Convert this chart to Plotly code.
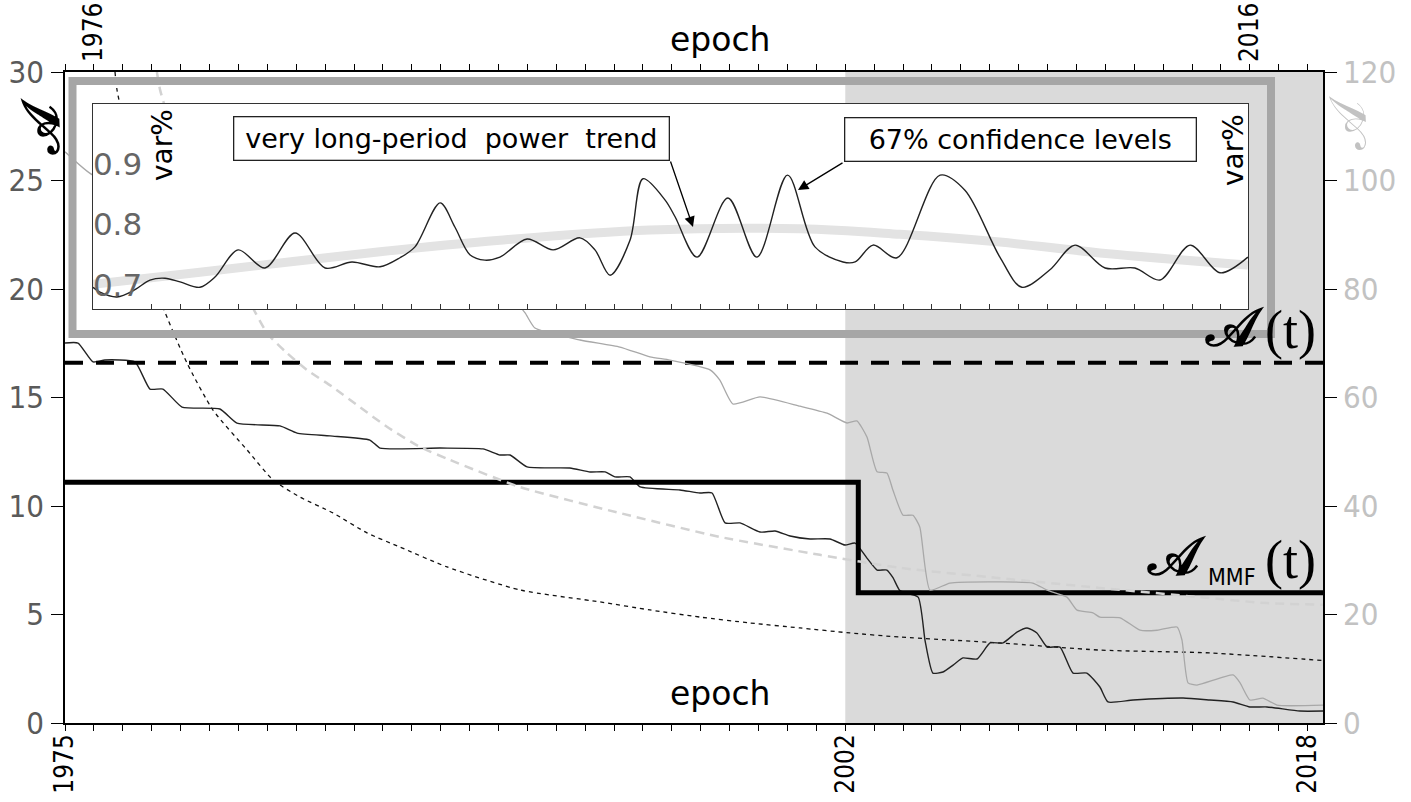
import plotly.graph_objects as go

# ---------------- data ----------------
# A(t) - black thin line, left axis
at_years = [1975.00, 1975.45, 1975.97, 1976.38, 1977.42, 1977.94, 1978.39, 1979.05, 1980.36, 1980.95,
            1982.44, 1983.03, 1984.17, 1985.55, 1985.90, 1987.98, 1989.46, 1990.05, 1990.40, 1990.99,
            1992.47, 1993.17, 1993.69, 1994.03, 1994.55, 1994.90, 1996.28, 1996.97, 1997.39, 1997.84,
            1998.36, 1999.05, 1999.57, 2000.09, 2000.78, 2001.47, 2001.99, 2002.34, 2002.75, 2003.10,
            2003.44, 2003.65, 2003.89, 2004.52, 2004.76, 2005.03, 2005.38, 2005.73, 2006.07, 2006.56,
            2007.01, 2007.46, 2007.94, 2008.29, 2008.63, 2008.98, 2009.43, 2009.88, 2010.36, 2010.81,
            2011.09, 2011.96, 2013.69, 2014.62, 2015.42, 2016.00, 2016.59, 2017.73, 2018.53]
at_vals = [17.51, 17.51, 16.64, 16.73, 16.64, 15.39, 15.39, 14.56, 14.47, 13.82,
           13.69, 13.36, 13.23, 13.04, 12.67, 12.67, 12.63, 12.35, 12.35, 11.80,
           11.75, 11.57, 11.57, 11.34, 11.34, 10.88, 10.74, 10.60, 10.60, 9.22,
           9.22, 8.80, 8.85, 8.62, 8.48, 8.48, 8.20, 8.29, 7.60, 7.05,
           7.05, 6.70, 6.10, 5.80, 3.80, 2.30, 2.35, 2.67, 3.00, 2.95,
           3.69, 3.69, 4.19, 4.38, 4.15, 3.50, 3.50, 2.30, 2.30, 1.66,
           0.97, 1.06, 1.15, 1.06, 0.97, 0.74, 0.74, 0.55, 0.55]

# gray thin line, right axis
gray_years = [1975.00, 1975.97, 1977.15, 1977.49, 1977.94, 1978.39, 1979.43, 1980.26, 1980.95, 1981.75,
              1982.34, 1982.89, 1983.72, 1984.27, 1984.97, 1985.80, 1986.35, 1987.04, 1987.53, 1987.98,
              1988.67, 1989.36, 1990.05, 1990.57, 1990.92, 1991.26, 1992.82, 1994.20, 1995.24, 1995.93,
              1997.32, 1997.66, 1998.11, 1999.05, 2000.43, 2001.37, 2002.06, 2002.40, 2002.75, 2003.10,
              2003.44, 2003.65, 2004.00, 2004.34, 2004.58, 2004.93, 2005.62, 2007.35, 2008.49, 2008.98,
              2009.67, 2010.02, 2010.57, 2010.81, 2011.51, 2012.20, 2012.79, 2013.48, 2013.65, 2013.86,
              2014.17, 2015.42, 2015.66, 2016.00, 2016.45, 2016.94, 2018.53]
gray_vals = [105.3, 101.0, 100.4, 100.1, 93.6, 93.1, 90.9, 90.3, 87.7, 87.2,
             87.2, 86.6, 84.1, 83.5, 83.5, 82.2, 81.1, 78.3, 79.8, 81.7,
             81.5, 80.4, 77.6, 77.6, 75.6, 72.8, 70.6, 69.3, 67.5, 66.9,
             65.1, 63.2, 58.8, 60.1, 58.4, 57.1, 55.3, 55.7, 52.7, 46.3,
             46.1, 42.9, 38.3, 38.3, 36.1, 24.5, 25.8, 26.0, 25.8, 24.5,
             23.2, 20.8, 20.3, 19.5, 19.4, 17.1, 17.1, 17.7, 15.3, 7.4,
             7.0, 8.85, 7.4, 4.24, 4.6, 3.3, 3.3]

# black dotted decay curve, left axis
dot_years = [1976.73, 1976.80, 1977.15, 1977.32, 1977.70, 1978.01, 1978.39, 1979.22, 1980.12, 1981.30,
             1982.20, 1983.13, 1984.27, 1985.45, 1986.59, 1988.22, 1990.74, 1993.51, 1995.24, 1996.97,
             1998.70, 2000.43, 2002.16, 2003.89, 2007.35, 2010.81, 2014.62, 2018.53]
dot_vals = [30.0, 29.17, 26.87, 24.88, 22.58, 20.78, 19.17, 16.59, 14.42, 12.58,
            11.20, 10.41, 9.68, 8.76, 8.11, 7.19, 6.13, 5.58, 5.21, 4.88,
            4.61, 4.38, 4.15, 3.96, 3.69, 3.36, 3.23, 2.88]

# light gray dashed decay curve, right axis
gdash_years = [1978.18, 1978.29, 1978.63, 1979.08, 1979.57, 1980.02, 1980.61, 1981.30, 1981.99, 1982.68,
               1983.37, 1984.27, 1985.21, 1986.14, 1987.28, 1988.32, 1990.74, 1994.20, 1997.66, 2001.12,
               2003.89, 2007.35, 2010.81, 2014.27, 2016.59, 2018.53]
gdash_vals = [120.0, 116.7, 110.6, 102.5, 96.4, 90.3, 84.8, 78.5, 71.9, 68.2,
              65.1, 61.9, 58.2, 54.6, 50.9, 48.5, 43.5, 38.7, 34.3, 31.0,
              28.6, 26.7, 24.9, 23.2, 22.1, 21.8]

# dashed horizontal level, left axis
level_years = [1975.0, 2018.53]
level_vals = [16.6, 16.6]

# A_MMF(t) step, left axis
mmf_years = [1975.0, 2002.45, 2018.53]
mmf_vals = [11.1, 6.0, 6.0]

# inset: var% series
var_years = [1975.97, 1976.21, 1976.80, 1977.42, 1977.94, 1978.46, 1978.98, 1979.67, 1980.19, 1980.99,
             1981.92, 1982.96, 1984.00, 1984.93, 1985.90, 1986.59, 1987.11, 1987.98, 1988.49, 1989.01,
             1989.53, 1990.05, 1990.99, 1991.89, 1992.82, 1993.34, 1993.86, 1994.55, 1995.00, 1995.76,
             1996.11, 1996.87, 1997.94, 1998.94, 2000.00, 2000.95, 2001.92, 2002.34, 2002.96, 2003.79,
             2005.28, 2006.14, 2007.35, 2008.11, 2009.08, 2009.95, 2010.99, 2012.02, 2012.89, 2013.93,
             2014.97, 2015.93]
var_vals = [0.696, 0.688, 0.680, 0.692, 0.708, 0.711, 0.705, 0.696, 0.713, 0.758,
            0.728, 0.786, 0.728, 0.738, 0.730, 0.745, 0.763, 0.836, 0.796, 0.750,
            0.741, 0.746, 0.776, 0.758, 0.778, 0.758, 0.716, 0.774, 0.876, 0.841,
            0.813, 0.746, 0.844, 0.746, 0.882, 0.763, 0.738, 0.738, 0.766, 0.745,
            0.882, 0.857, 0.746, 0.696, 0.725, 0.766, 0.728, 0.728, 0.708, 0.766,
            0.720, 0.746]

# inset: long-period power trend
trend_years = [1975.97, 1979.67, 1985.90, 1990.05, 1995.24, 2000.43, 2003.89, 2007.35, 2010.81, 2015.93]
trend_vals = [0.701, 0.721, 0.755, 0.774, 0.791, 0.793, 0.784, 0.771, 0.753, 0.733]

# shaded period
shade_years = [2002.0, 2018.53]

# ticks
x_tick_years = list(range(1975, 2019))
bottom_labels = [1975, 2002, 2018]
top_labels = [1976, 2016]
left_ticks = [0, 5, 10, 15, 20, 25, 30]
right_ticks = [0, 20, 40, 60, 80, 100, 120]
inset_ticks = [0.7, 0.8, 0.9]

# ---------------- layout helpers ----------------
W, H = 1411, 802
L, R, T, B = 65, 1323, 72, 723
X0, X1 = 1975.0, 2018.53
PPY = (R - L) / (X1 - X0)


def xp(px):
    return (px - L) / (R - L)


def yp(py):
    return (B - py) / (B - T)


def yr(px):
    return X0 + (px - L) / PPY


COND = "DejaVu Sans Condensed, DejaVu Sans, sans-serif"
SANS = "DejaVu Sans, sans-serif"
SCRIPT = "DejaVu Serif, DejaVu Sans, Noto Sans, serif"
SERIF = "Liberation Serif, DejaVu Serif, serif"

fig = go.Figure()

fig.add_trace(go.Scatter(x=gdash_years, y=gdash_vals, xaxis="x", yaxis="y2", mode="lines",
                         line=dict(color="#d2d2d2", width=2.5, dash="9px,6px", shape="spline", smoothing=0.6),
                         hoverinfo="skip", showlegend=False))
fig.add_trace(go.Scatter(x=gray_years, y=gray_vals, xaxis="x", yaxis="y2", mode="lines",
                         line=dict(color="#a8a8a8", width=1.3, shape="spline", smoothing=0.5),
                         hoverinfo="skip", showlegend=False))
fig.add_trace(go.Scatter(x=dot_years, y=dot_vals, xaxis="x", yaxis="y", mode="lines",
                         line=dict(color="#111111", width=1.3, dash="4px,4px", shape="spline", smoothing=0.6),
                         hoverinfo="skip", showlegend=False))
fig.add_trace(go.Scatter(x=at_years, y=at_vals, xaxis="x", yaxis="y", mode="lines",
                         line=dict(color="#222222", width=1.4, shape="spline", smoothing=0.5),
                         hoverinfo="skip", showlegend=False))
fig.add_trace(go.Scatter(x=level_years, y=level_vals, xaxis="x", yaxis="y", mode="lines",
                         line=dict(color="#000000", width=4, dash="18px,13px"),
                         hoverinfo="skip", showlegend=False))
fig.add_trace(go.Scatter(x=mmf_years, y=mmf_vals, xaxis="x", yaxis="y", mode="lines",
                         line=dict(color="#000000", width=5, shape="hv"),
                         hoverinfo="skip", showlegend=False))
fig.add_trace(go.Scatter(x=trend_years, y=trend_vals, xaxis="x3", yaxis="y3", mode="lines",
                         line=dict(color="#e3e3e3", width=9, shape="spline", smoothing=1.0),
                         hoverinfo="skip", showlegend=False))
fig.add_trace(go.Scatter(x=var_years, y=var_vals, xaxis="x3", yaxis="y3", mode="lines",
                         line=dict(color="#222222", width=1.4, shape="spline", smoothing=0.9),
                         hoverinfo="skip", showlegend=False))
# invisible trace to carry the top axis
fig.add_trace(go.Scatter(x=[X0, X1], y=[0, 0], xaxis="x2", yaxis="y", mode="lines",
                         line=dict(width=0), opacity=0, hoverinfo="skip", showlegend=False))

axis_common = dict(showgrid=False, zeroline=False, showline=True, linecolor="#000000", linewidth=1.5,
                   ticks="outside", tickcolor="#000000", tickwidth=1.3, automargin=False)

fig.update_layout(
    width=W, height=H,
    margin=dict(l=L, r=W - R, t=T, b=H - B, pad=0, autoexpand=False),
    paper_bgcolor="white", plot_bgcolor="white",
    xaxis=dict(**axis_common, range=[X0, X1], domain=[0, 1], anchor="y",
               tickvals=x_tick_years,
               ticktext=[str(v) if v in bottom_labels else "" for v in x_tick_years],
               ticklen=6, tickangle=-90, ticklabelstandoff=-7,
               tickfont=dict(family=COND, size=26, color="#000000")),
    xaxis2=dict(**axis_common, range=[X0, X1], overlaying="x", side="top", anchor="y",
                tickvals=x_tick_years,
                ticktext=[str(v) if v in top_labels else "" for v in x_tick_years],
                ticklen=6, tickangle=-90, ticklabelstandoff=-3,
                tickfont=dict(family=COND, size=26, color="#000000")),
    yaxis=dict(**axis_common, range=[0, 30], domain=[0, 1], anchor="x",
               tickvals=left_ticks, ticklen=12, ticklabelstandoff=1,
               tickfont=dict(family=COND, size=31, color="#5a5a5a")),
    yaxis2=dict(**axis_common, range=[0, 120], overlaying="y", side="right", anchor="x",
                tickvals=right_ticks, ticklen=12, ticklabelstandoff=0,
                tickfont=dict(family=COND, size=31, color="#c2c2c2")),
    xaxis3=dict(showgrid=False, zeroline=False, showline=True, linecolor="#333333", linewidth=1.2,
                mirror=True, domain=[xp(93), xp(1248)], range=[yr(93), yr(1248)], anchor="y3",
                tickvals=x_tick_years, ticks="inside", ticklen=5, tickcolor="#333333", tickwidth=1.2,
                showticklabels=False, automargin=False),
    yaxis3=dict(showgrid=False, zeroline=False, showline=True, linecolor="#333333", linewidth=1.2,
                mirror=True, domain=[yp(309), yp(104)], range=[0.66, 1.0], anchor="x3",
                tickvals=inset_ticks, ticks="", ticklabelposition="inside", automargin=False,
                ticklabelstandoff=3,
                tickfont=dict(family=SANS, size=31, color="#666666")),
    shapes=[
        dict(type="rect", xref="x", yref="paper", x0=shade_years[0], x1=shade_years[1], y0=0, y1=1,
             fillcolor="#dadada", line=dict(width=0), layer="below"),
        dict(type="rect", xref="paper", yref="paper", x0=xp(72.5), x1=xp(1271), y0=yp(334), y1=yp(81),
             line=dict(color="#a6a6a6", width=8), fillcolor="rgba(0,0,0,0)", layer="above"),
    ],
)

ann = []
ann.append(dict(text="epoch", x=xp(720), y=yp(40), xref="paper", yref="paper", showarrow=False,
                font=dict(family=SANS, size=33, color="#000000"), xanchor="center", yanchor="middle"))
ann.append(dict(text="epoch", x=xp(720), y=yp(693), xref="paper", yref="paper", showarrow=False,
                font=dict(family=SANS, size=33, color="#000000"), xanchor="center", yanchor="middle"))
ann.append(dict(text="<b>𝒜</b>", x=xp(40), y=yp(127), xref="paper", yref="paper", showarrow=False, textangle=-90,
                font=dict(family=SCRIPT, size=52, color="#000000"), xanchor="center", yanchor="middle"))
ann.append(dict(text="𝒜", x=xp(1348), y=yp(123), xref="paper", yref="paper", showarrow=False, textangle=-90,
                font=dict(family=SCRIPT, size=52, color="#c2c2c2"), xanchor="center", yanchor="middle"))
ann.append(dict(text="var%", x=xp(162), y=yp(145), xref="paper", yref="paper", showarrow=False, textangle=-90,
                font=dict(family=SANS, size=28, color="#000000"), xanchor="center", yanchor="middle"))
ann.append(dict(text="var%", x=xp(1233), y=yp(150), xref="paper", yref="paper", showarrow=False, textangle=-90,
                font=dict(family=SANS, size=28, color="#000000"), xanchor="center", yanchor="middle"))
ann.append(dict(text="very long-period  power  trend", x=xp(451.5), y=yp(138.5), xref="paper", yref="paper",
                showarrow=False, font=dict(family=SANS, size=27, color="#000000"),
                bgcolor="white", bordercolor="#222222", borderwidth=1.3, borderpad=3,
                width=428, height=36, xanchor="center", yanchor="middle"))
ann.append(dict(text="67% confidence levels", x=xp(1020.5), y=yp(140), xref="paper", yref="paper",
                showarrow=False, font=dict(family=SANS, size=27, color="#000000"),
                bgcolor="white", bordercolor="#222222", borderwidth=1.3, borderpad=3,
                width=344, height=36, xanchor="center", yanchor="middle"))
# arrows
ann.append(dict(text="", x=xp(693), y=yp(227), xref="paper", yref="paper", showarrow=True,
                ax=670 - 693, ay=160 - 227, axref="pixel", ayref="pixel",
                arrowhead=2, arrowsize=1.6, arrowwidth=1.3, arrowcolor="#000000", standoff=0))
ann.append(dict(text="", x=xp(798), y=yp(190), xref="paper", yref="paper", showarrow=True,
                ax=844 - 798, ay=162 - 190, axref="pixel", ayref="pixel",
                arrowhead=2, arrowsize=1.6, arrowwidth=1.3, arrowcolor="#000000", standoff=0))
# A(t) and A_MMF(t) labels
ann.append(dict(text="<b>𝒜</b>", x=xp(1235), y=yp(327), xref="paper", yref="paper", showarrow=False,
                font=dict(family=SCRIPT, size=54, color="#000000"), xanchor="center", yanchor="middle"))
ann.append(dict(text="(t)", x=xp(1290), y=yp(330), xref="paper", yref="paper", showarrow=False,
                font=dict(family=SERIF, size=54, color="#000000"), xanchor="center", yanchor="middle"))
ann.append(dict(text="<b>𝒜</b>", x=xp(1177), y=yp(556), xref="paper", yref="paper", showarrow=False,
                font=dict(family=SCRIPT, size=54, color="#000000"), xanchor="center", yanchor="middle"))
ann.append(dict(text="MMF", x=xp(1232), y=yp(577), xref="paper", yref="paper", showarrow=False,
                font=dict(family=COND, size=23, color="#000000"), xanchor="center", yanchor="middle"))
ann.append(dict(text="(t)", x=xp(1290), y=yp(560), xref="paper", yref="paper", showarrow=False,
                font=dict(family=SERIF, size=54, color="#000000"), xanchor="center", yanchor="middle"))

fig.update_layout(annotations=ann)

fig.write_html("out.html")
